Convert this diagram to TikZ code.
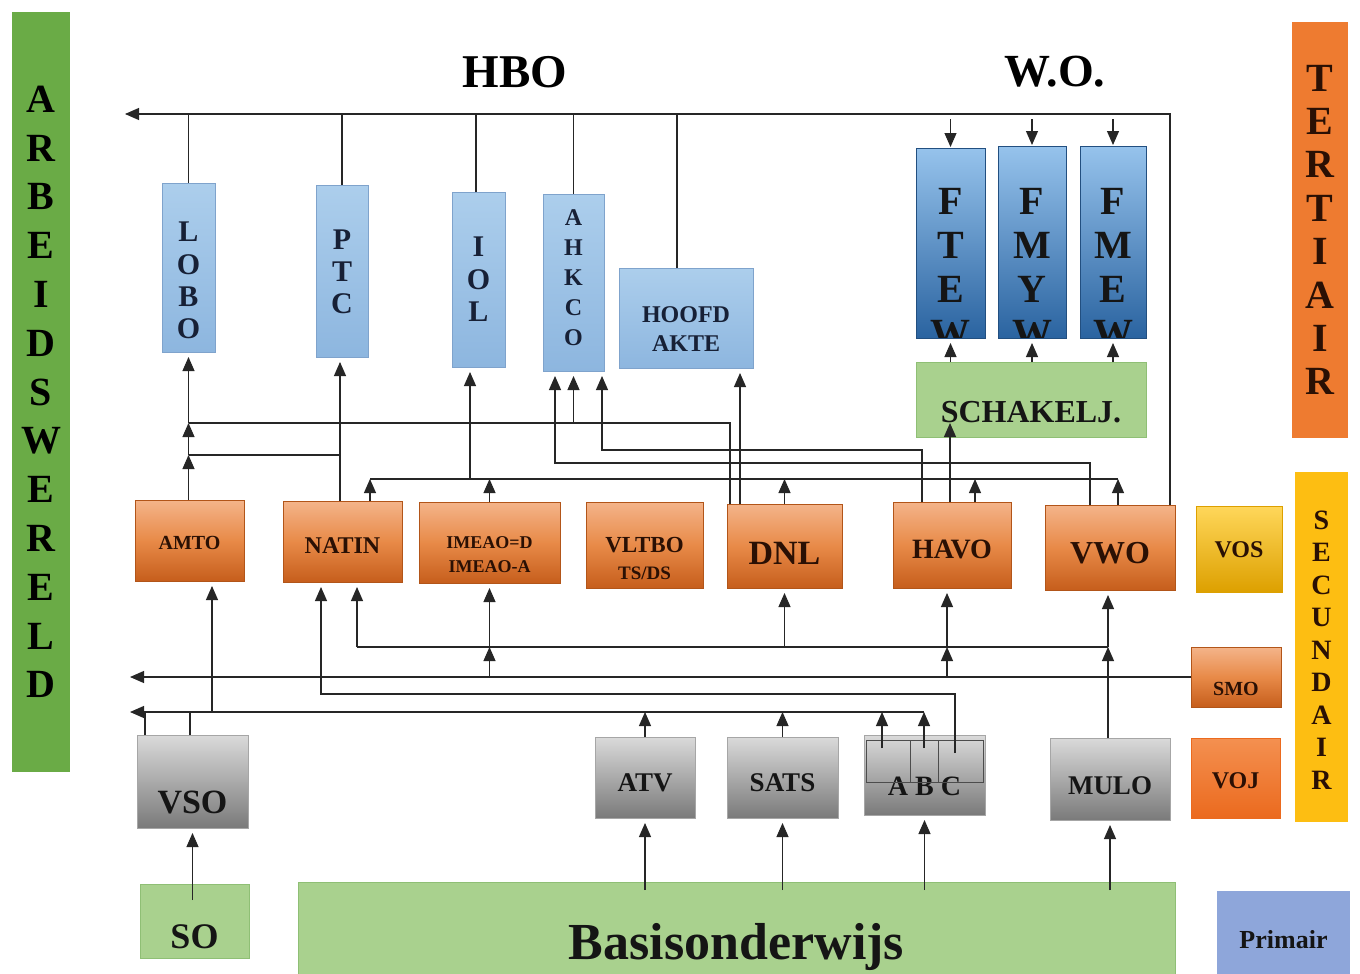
\documentclass[tikz,border=0pt]{standalone}
\usepackage{fontspec}
\setmainfont{Liberation Serif}
\usetikzlibrary{arrows.meta,calc}
\newcommand{\fsz}[2]{\fontsize{#1}{#2}\selectfont\bfseries}
\definecolor{arbg}{HTML}{6AAB46}
\definecolor{terc}{HTML}{EE7B30}
\definecolor{secc}{HTML}{FDBE12}
\definecolor{hbot}{HTML}{ACCEEC}
\definecolor{hbob}{HTML}{8DB6DF}
\definecolor{hbod}{HTML}{7FA3CC}
\definecolor{wot}{HTML}{96C3EC}
\definecolor{wob}{HTML}{2A63A0}
\definecolor{orat}{HTML}{F4B48A}
\definecolor{oram}{HTML}{E88A48}
\definecolor{orab}{HTML}{C65E1C}
\definecolor{grat}{HTML}{DADADA}
\definecolor{grab}{HTML}{7A7A7A}
\definecolor{grnf}{HTML}{A9D18E}
\definecolor{grnd}{HTML}{8FBF75}
\definecolor{prim}{HTML}{8EA6DA}
\definecolor{vost}{HTML}{FFD75A}
\definecolor{vosb}{HTML}{DDA000}
\definecolor{vojt}{HTML}{F49050}
\definecolor{vojb}{HTML}{EB6A1E}
\definecolor{navy}{HTML}{172036}
\definecolor{brn}{HTML}{2A1004}
\definecolor{dk}{HTML}{151515}
\begin{document}
\begin{tikzpicture}[x=1pt,y=-1pt,
  box/.style={inner sep=0pt, outer sep=0pt, line width=0.6pt},
  hbo/.style={box, draw=hbod, top color=hbot, bottom color=hbob},
  wo/.style={box, draw=wob!80!black, top color=wot, bottom color=wob},
  ora/.style={box, draw=orab!90!black, top color=orat, bottom color=orab, middle color=oram},
  gry/.style={box, draw=gray!70, top color=grat, bottom color=grab},
  grn/.style={box, draw=grnd, fill=grnf},
  lb/.style={inner sep=0pt, align=center, text=#1},
  ln/.style={line width=1.1pt, draw=black!85},
  arr/.style={-{Triangle[length=14pt,width=12pt]}},
  into/.style={arr, shorten >=5pt}]
\useasboundingbox (0,0) rectangle (1360,974);
\fill[white] (0,0) rectangle (1360,974);

% side bars
\node[box, fill=arbg, minimum width=58, minimum height=760,
  label={[lb=black, font=\fsz{40}{48.8}]center:A\\R\\B\\E\\I\\D\\S\\W\\E\\R\\E\\L\\D}] (arb) at (41,392) {};
\node[box, fill=terc, minimum width=56, minimum height=416,
  label={[lb=brn, font=\fsz{40}{43.4}]center:T\\E\\R\\T\\I\\A\\I\\R}] (ter) at (1320,230) {};
\node[box, fill=secc, minimum width=53, minimum height=350,
  label={[lb=brn, font=\fsz{28}{32.5}, yshift=-3pt]center:S\\E\\C\\U\\N\\D\\A\\I\\R}] (sec) at (1321.5,647) {};
\node[box, draw=vosb, top color=vost, bottom color=vosb, minimum width=86, minimum height=86,
  label={[lb=brn, font=\fsz{24}{28}, yshift=-1pt]center:VOS}] (vos) at (1239,549) {};
\node[ora, minimum width=90, minimum height=60,
  label={[lb=brn, font=\fsz{20}{24}, yshift=-12pt]center:SMO}] (smo) at (1236,677) {};
\node[box, draw=vojb, top color=vojt, bottom color=vojb, minimum width=89, minimum height=80,
  label={[lb=brn, font=\fsz{24}{28}, yshift=-3pt]center:VOJ}] (voj) at (1235.5,778) {};
\node[box, fill=prim, minimum width=133, minimum height=83,
  label={[lb=dk, font=\fsz{26}{30}, yshift=-7.5pt]center:Primair}] (prim) at (1283.5,932.5) {};

% titles
\node[font=\fsz{47}{50}, text=black] (hbot) at (515,72) {HBO};
\node[font=\fsz{46}{50}, text=black] (wot) at (1055,72) {W.O.};

% HBO boxes
\node[hbo, minimum width=53, minimum height=169,
  label={[lb=navy, font=\fsz{30}{32.3}, yshift=-13pt]center:L\\O\\B\\O}] (lobo) at (188.5,267.5) {};
\node[hbo, minimum width=52, minimum height=172,
  label={[lb=navy, font=\fsz{30}{32}, yshift=-1pt]center:P\\T\\C}] (ptc) at (342,271) {};
\node[hbo, minimum width=53, minimum height=175,
  label={[lb=navy, font=\fsz{30}{32.5}]center:I\\O\\L}] (iol) at (478.5,279.5) {};
\node[hbo, minimum width=61, minimum height=177,
  label={[lb=navy, font=\fsz{24}{30}, yshift=4.5pt]center:A\\H\\K\\C\\O}] (ahkco) at (573.5,282.5) {};
\node[hbo, minimum width=134, minimum height=100,
  label={[lb=navy, font=\fsz{24}{29}, yshift=-11.5pt]center:HOOFD\\AKTE}] (hoofd) at (686,318) {};

% W.O. boxes
\node[wo, minimum width=69, minimum height=190,
  path picture={\node[lb=dk, font=\fsz{40}{44}] at ([yshift=-25pt]path picture bounding box.center) {F\\T\\E\\W};}] (ftew) at (950.5,243) {};
\node[wo, minimum width=68, minimum height=192,
  path picture={\node[lb=dk, font=\fsz{40}{44}] at ([yshift=-26pt]path picture bounding box.center) {F\\M\\Y\\W};}] (fmyw) at (1032,242) {};
\node[wo, minimum width=66, minimum height=192,
  path picture={\node[lb=dk, font=\fsz{40}{44}] at ([yshift=-26pt]path picture bounding box.center) {F\\M\\E\\W};}] (fmew) at (1113,242) {};
\node[grn, minimum width=230, minimum height=75,
  label={[lb=dk, font=\fsz{32}{36}, yshift=-12.5pt]center:SCHAKELJ.}] (sch) at (1031,399.5) {};

% middle row
\node[ora, minimum width=109, minimum height=81,
  label={[lb=brn, font=\fsz{20}{24}, yshift=-2.5pt]center:AMTO}] (amto) at (189.5,540.5) {};
\node[ora, minimum width=119, minimum height=81,
  label={[lb=brn, font=\fsz{24}{28}, yshift=-4.5pt]center:NATIN}] (natin) at (342.5,541.5) {};
\node[ora, minimum width=141, minimum height=81,
  label={[lb=brn, font=\fsz{18}{24}, yshift=-12.5pt]center:IMEAO=D\\IMEAO-A}] (imeao) at (489.5,542.5) {};
\node[ora, minimum width=117, minimum height=86,
  label={[lb=brn, font=\fsz{23}{27}, yshift=-13.5pt]center:VLTBO\\\fsz{19}{27}TS/DS}] (vltbo) at (644.5,545) {};
\node[ora, minimum width=115, minimum height=84,
  label={[lb=brn, font=\fsz{34}{38}, yshift=-7pt]center:DNL}] (dnl) at (784.5,546) {};
\node[ora, minimum width=118, minimum height=86,
  label={[lb=brn, font=\fsz{28}{32}, yshift=-4pt]center:HAVO}] (havo) at (952,545) {};
\node[ora, minimum width=130, minimum height=85,
  label={[lb=brn, font=\fsz{32}{36}, yshift=-5.5pt]center:VWO}] (vwo) at (1110,547.5) {};

% lower row
\node[gry, minimum width=111, minimum height=93,
  label={[lb=dk, font=\fsz{34}{38}, yshift=-20.5pt]center:VSO}] (vso) at (192.5,781.5) {};
\node[gry, minimum width=100, minimum height=81,
  label={[lb=dk, font=\fsz{27}{31}, yshift=-5.5pt]center:ATV}] (atv) at (645,777.5) {};
\node[gry, minimum width=111, minimum height=81,
  label={[lb=dk, font=\fsz{27}{31}, yshift=-5.5pt]center:SATS}] (sats) at (782.5,777.5) {};
\node[gry, minimum width=121, minimum height=80,
  label={[lb=dk, font=\fsz{28}{32}, yshift=-11pt]center:A B C}] (abc) at (924.5,775) {};
\node[gry, minimum width=120, minimum height=82,
  label={[lb=dk, font=\fsz{27}{31}, yshift=-7pt]center:MULO}] (mulo) at (1110,779) {};
\draw[line width=0.8pt, black!70] ([xshift=2pt,yshift=-5pt]abc.north west) rectangle ([xshift=-2pt,yshift=33pt]abc.south east);
\draw[line width=0.8pt, black!70] ([xshift=46pt,yshift=-5pt]abc.north west) -- ([xshift=46pt,yshift=-47pt]abc.north west);
\draw[line width=0.8pt, black!70] ([xshift=74pt,yshift=-5pt]abc.north west) -- ([xshift=74pt,yshift=-47pt]abc.north west);

% bottom
\node[grn, minimum width=109, minimum height=74,
  label={[lb=dk, font=\fsz{36}{40}, yshift=-16pt]center:SO}] (so) at (194.5,921) {};
\node[grn, minimum width=877, minimum height=92,
  label={[lb=dk, font=\fsz{52}{56}, yshift=-19pt]center:Basisonderwijs}] (basis) at (736.5,928) {};

% ---------- connectors: top ----------
\coordinate (tl) at (125,114);
\coordinate (vwoR) at ([xshift=-5pt]vwo.north east);
\draw[ln,arr] (vwoR) |- (tl);
\draw[ln] (lobo.north) -- (lobo.north |- tl);
\draw[ln] (ptc.north) -- (ptc.north |- tl);
\coordinate (io) at ([xshift=-2.5pt]iol.north);
\draw[ln] (io) -- (io |- tl);
\draw[ln] (ahkco.north) -- (ahkco.north |- tl);
\coordinate (hd) at ([xshift=-9pt]hoofd.north);
\draw[ln] (hd) -- (hd |- tl);

\coordinate (wo0) at (0,119);
\foreach \n in {ftew,fmyw,fmew}{
  \draw[ln,arr,shorten >=1pt] (\n.north |- wo0) -- (\n.north);
  \draw[ln,into] (\n.south |- sch.north) -- (\n.south);
}
\coordinate (h2) at ([xshift=-2pt]havo.north);
\coordinate (schS) at ([yshift=14pt]sch.south);
\draw[ln,arr] (h2) -- (h2 |- schS);

% ---------- middle to HBO ----------
\coordinate (yA) at (0,423);
\coordinate (yB) at (0,455);
\coordinate (yC) at (0,450);
\coordinate (yD) at (0,463);
\coordinate (yE) at (0,479);
\draw[ln,arr] (lobo.south |- amto.north) -- (lobo.south |- yB);
\draw[ln,arr] (lobo.south |- yB) -- (lobo.south |- yA);
\draw[ln,into] (lobo.south |- yA) -- (lobo.south);
\coordinate (n0) at ([xshift=-2pt]ptc.south);
\draw[ln,into] (n0 |- natin.north) -- (n0);
\draw[ln] (n0 |- yB) -- (lobo.south |- yB);
\coordinate (d1) at ([xshift=3pt]dnl.north west);
\coordinate (d2) at ([xshift=13pt]dnl.north west);
\draw[ln] (d1) |- (lobo.south |- yA);
\draw[ln,into] (d2) -- (d2 |- hoofd.south);
\draw[ln,into] (ahkco.south |- yA) -- (ahkco.south);
\coordinate (h1) at ([xshift=29pt]havo.north west);
\coordinate (a3) at ([xshift=-2pt]ahkco.south east);
\draw[ln,into] (h1) |- (a3 |- yC) -- (a3);
\coordinate (v1) at ([xshift=45pt]vwo.north west);
\coordinate (a1) at ([xshift=12pt]ahkco.south west);
\draw[ln,into] (v1) |- (a1 |- yD) -- (a1);
\coordinate (n2) at ([xshift=87pt]natin.north west);
\coordinate (h3) at ([xshift=82pt]havo.north west);
\coordinate (v2) at ([xshift=73pt]vwo.north west);
\coordinate (i1) at ([xshift=18pt]iol.south west);
\draw[ln] (n2 |- yE) -- (v2 |- yE);
\foreach \c in {n2, imeao.north, dnl.north, h3, v2}
  \draw[ln,arr] (\c) -- (\c |- yE);
\draw[ln,into] (i1 |- yE) -- (i1);

% ---------- lower ----------
\coordinate (yF) at (0,647);
\coordinate (yG) at (0,677);
\coordinate (yH) at (0,694);
\coordinate (yI) at (0,712);
\coordinate (ll) at (130,0);
\draw[ln,arr] (smo.west) -- (ll |- smo.west);
\coordinate (abA) at ([xshift=18pt,yshift=-13pt]abc.north west);
\coordinate (abB) at ([xshift=60pt,yshift=-13pt]abc.north west);
\coordinate (abC) at ([xshift=91pt,yshift=-18pt]abc.north west);
\draw[ln,arr] (abB |- yI) -- (ll |- yI);
\foreach \c in {atv.north, sats.north, abA, abB}
  \draw[ln,arr] (\c) -- (\c |- yI);
\coordinate (vs1) at ([xshift=8pt]vso.north west);
\coordinate (vs2) at ([xshift=53pt]vso.north west);
\draw[ln] (vs1) -- (vs1 |- yI);
\draw[ln] (vs2) -- (vs2 |- yI);
\coordinate (am1) at ([xshift=77pt]amto.south west);
\draw[ln,into] (am1 |- yI) -- (am1);
\coordinate (n1) at ([xshift=38pt]natin.south west);
\draw[ln,into] (abC) |- (n1 |- yH) -- (n1);
\coordinate (n3) at ([xshift=74pt]natin.south west);
\coordinate (h4) at ([xshift=54pt]havo.south west);
\coordinate (m1) at ([xshift=-2pt]mulo.north);
\coordinate (v3) at ([xshift=-2pt]vwo.south);
\draw[ln] (n3 |- yF) -- (m1 |- yF);
\foreach \c in {n3, imeao.south, dnl.south, h4, v3}
  \draw[ln,into] (\c |- yF) -- (\c);
\draw[ln,arr] (imeao.south |- yG) -- (imeao.south |- yF);
\draw[ln,arr] (h4 |- yG) -- (h4 |- yF);
\draw[ln,arr] (m1) -- (m1 |- yF);

% ---------- bottom ----------
\coordinate (s0) at ([yshift=-16pt]so.north);
\draw[ln,into] (vso.south |- s0) -- (vso.south);
\coordinate (b0) at ([yshift=-8pt]basis.north);
\foreach \c in {atv.south, sats.south, abc.south, mulo.south}
  \draw[ln,into] (\c |- b0) -- (\c);
\end{tikzpicture}
\end{document}
